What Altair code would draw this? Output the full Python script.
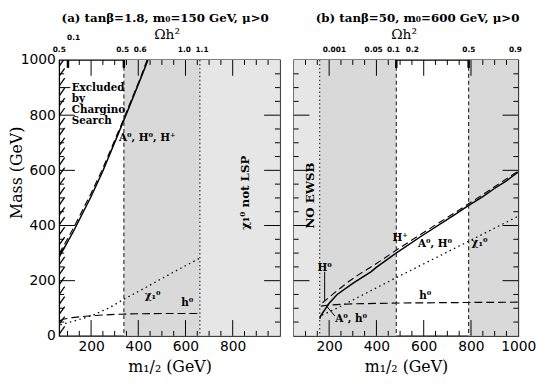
import altair as alt
import pandas as pd
import numpy as np

SERIF = "DejaVu Serif"
SANS = "DejaVu Sans"

# ---------------- panel (a): tanβ=1.8, m0=150 GeV ----------------
a_title = "(a) tanβ=1.8, m₀=150 GeV, μ>0"
a_xdomain = [65, 1000]
a_higgs_m = [65, 126, 200, 249, 330, 412, 441]
a_higgs_mass = [286, 380, 505, 596, 763, 937, 1000]
a_higgs2_m = [65, 126, 200, 249, 330, 412, 437]
a_higgs2_mass = [298, 392, 517, 606, 770, 942, 1000]
a_chi_m = [70, 120, 200, 280, 339, 420, 500, 580, 661]
a_chi_mass = [40, 52, 72, 103, 133, 170, 208, 245, 282]
a_h_m = [68, 80, 120, 200, 300, 400, 500, 655]
a_h_mass = [55, 60, 66, 73, 78, 80, 81, 81]
a_excluded = [65, 88]
a_stipple = [[339, 661]]
a_gray = [[661, 1000]]
a_dashed = [339]
a_dotted = [661]
a_om_low_pos = [65, 334, 408, 595, 670]
a_om_low_lab = ["0.5", "0.5", "0.6", "1.0", "1.1"]
a_om_up_pos = [126]
a_om_up_lab = ["0.1"]
a_om_marks = [102, 339]
a_xlabels = [200, 400, 600, 800]
a_text_m = [118, 118, 118, 118, 318, 461, 608]
a_text_mass = [898, 858, 818, 778, 717, 146, 118]
a_text = ["Excluded", "by", "Chargino", "Search", "A⁰, H⁰, H⁺", "χ₁⁰", "h⁰"]
a_text_align = ["left", "left", "left", "left", "left", "center", "center"]
a_rot_m = [853]
a_rot_mass = [519]
a_rot_text = ["χ₁⁰  not LSP"]
a_arrows = [[80, 900, 112, 900]]

# ---------------- panel (b): tanβ=50, m0=600 GeV ----------------
b_title = "(b) tanβ=50, m₀=600 GeV, μ>0"
b_xdomain = [50, 1000]
b_solid_m = [160, 165, 200, 234, 300, 378, 398, 488, 591, 738, 787, 850, 902, 950, 1000]
b_solid_mass = [62, 73, 118, 150, 190, 233, 247, 303, 362, 443, 471, 505, 536, 562, 594]
b_dash_m = [172, 234, 283, 325, 400, 488, 591, 738, 850, 1000]
b_dash_mass = [120, 164, 197, 222, 262, 313, 370, 450, 512, 598]
b_chi_m = [170, 237, 486, 533, 795, 1000]
b_chi_mass = [75, 102, 212, 232, 345, 434]
b_h_m = [165, 200, 300, 500, 800, 1000]
b_h_mass = [108, 112, 116, 119, 121, 122]
b_stipple = [[160, 484], [790, 1000]]
b_gray = [[50, 160]]
b_dashed = [484, 790]
b_dotted = [160]
b_om_low_pos = [222, 388, 472, 552, 791, 988]
b_om_low_lab = ["0.001", "0.05", "0.1", "0.2", "0.5", "0.9"]
b_om_marks = [484, 790]
b_xlabels = [200, 400, 600, 800, 1000]
b_text_m = [500, 648, 836, 607, 181, 226]
b_text_mass = [355, 334, 338, 146, 247, 60]
b_text = ["H⁺", "A⁰, H⁰", "χ₁⁰", "h⁰", "H⁰", "A⁰, h⁰"]
b_text_align = ["center", "center", "center", "center", "center", "left"]
b_rot_m = [120]
b_rot_mass = [509]
b_rot_text = ["NO EWSB"]
b_arrows = [[181, 232, 181, 128], [224, 72, 192, 105]]

Y_MAJOR = [0, 200, 400, 600, 800, 1000]

STIPPLE = "#d9d9d9"
GRAY = "#e6e6e6"


def build_panel(W, H, xdom, title, title_m, omega_m, lines, stipple, gray,
                dashed, dotted, om_low, om_up, om_marks, xlabels,
                texts, rots, arrows, show_y, hatch=None):
    xs = alt.Scale(domain=xdom, nice=False, zero=False)
    ys = alt.Scale(domain=[0, 1000], nice=False, zero=False)

    xaxis = alt.Axis(values=xlabels, ticks=False, domain=False, grid=False,
                     format="d",
                     labelFont=SANS, labelFontSize=14, labelColor="black",
                     labelPadding=4, labelFlush=False,
                     title="m₁/₂ (GeV)", titleFont=SERIF, titleFontSize=16,
                     titleFontWeight="normal", titleColor="black", titlePadding=5)
    if show_y:
        yaxis = alt.Axis(values=Y_MAJOR, ticks=False, domain=False, grid=False,
                         format="d",
                         labelFont=SANS, labelFontSize=14, labelColor="black",
                         labelPadding=4, title="Mass (GeV)", titleFont=SERIF,
                         titleFontSize=16, titleFontWeight="normal",
                         titleColor="black", titleAngle=270, titleX=-35,
                         titleY=114, titleAlign="center", titleBaseline="bottom")
    else:
        yaxis = None

    def X(f):
        return alt.X(f, type="quantitative", scale=xs, axis=xaxis)

    def Y(f):
        return alt.Y(f, type="quantitative", scale=ys, axis=yaxis)

    layers = []
    reg = pd.DataFrame(
        [{"x0": a, "x1": b, "fill": STIPPLE} for a, b in stipple]
        + [{"x0": a, "x1": b, "fill": GRAY} for a, b in gray])
    reg["y0"] = 0
    reg["y1"] = 1000
    layers.append(alt.Chart(reg).mark_rect(strokeWidth=0).encode(
        x=X("x0"), x2="x1", y=Y("y0"), y2="y1",
        color=alt.Color("fill:N", scale=None)))

    if hatch is not None:
        h0, h1 = hatch
        starts = np.arange(-30, 1000, 36)
        hd = pd.DataFrame({"x0": h0, "x1": h1, "y0": starts, "y1": starts + 28})
        layers.append(alt.Chart(hd).mark_rule(color="black", strokeWidth=1.3, clip=True).encode(
            x=X("x0"), x2="x1", y=Y("y0"), y2="y1"))

    for m, mass, dash, sw in lines:
        ld = pd.DataFrame({"m": m, "mass": mass})
        kw = dict(color="black", strokeWidth=sw, clip=True)
        if dash:
            kw["strokeDash"] = dash
        layers.append(alt.Chart(ld).mark_line(**kw).encode(x=X("m"), y=Y("mass")))

    if dashed:
        layers.append(alt.Chart(pd.DataFrame({"v": dashed})).mark_rule(
            color="#222", strokeWidth=1.1, strokeDash=[4, 3]).encode(
            x=X("v"), y=alt.value(0), y2=alt.value(H)))
    if dotted:
        layers.append(alt.Chart(pd.DataFrame({"v": dotted})).mark_rule(
            color="#222", strokeWidth=1.1, strokeDash=[1.5, 2.5]).encode(
            x=X("v"), y=alt.value(0), y2=alt.value(H)))

    # inward ticks
    xmaj = [v for v in range(200, 1001, 200) if xdom[0] < v < xdom[1]]
    xmin = [v for v in range(50, 1001, 50) if xdom[0] < v < xdom[1] and v not in xmaj]
    ymaj = [200, 400, 600, 800]
    ymin = [v for v in range(50, 1000, 50) if v not in ymaj]
    for vals, ln in ((xmaj, 16), (xmin, 5)):
        td = pd.DataFrame({"v": vals})
        layers.append(alt.Chart(td).mark_rule(color="black", strokeWidth=1).encode(
            x=X("v"), y=alt.value(H), y2=alt.value(H - ln)))
        layers.append(alt.Chart(td).mark_rule(color="black", strokeWidth=1).encode(
            x=X("v"), y=alt.value(0), y2=alt.value(ln)))
    for vals, ln in ((ymaj, 16), (ymin, 5)):
        td = pd.DataFrame({"v": vals})
        layers.append(alt.Chart(td).mark_rule(color="black", strokeWidth=1).encode(
            y=Y("v"), x=alt.value(0), x2=alt.value(ln)))
        layers.append(alt.Chart(td).mark_rule(color="black", strokeWidth=1).encode(
            y=Y("v"), x=alt.value(W), x2=alt.value(W - ln)))

    # Omega h^2 markers on the top edge
    layers.append(alt.Chart(pd.DataFrame({"v": om_marks})).mark_rule(
        color="black", strokeWidth=2.5).encode(x=X("v"), y=alt.value(0), y2=alt.value(8)))

    # arrows / pointer lines
    if arrows:
        ad = pd.DataFrame(arrows, columns=["x0", "y0", "x1", "y1"])
        layers.append(alt.Chart(ad).mark_rule(color="black", strokeWidth=1).encode(
            x=X("x0"), y=Y("y0"), x2="x1", y2="y1"))

    # texts inside plot
    td = pd.DataFrame(texts, columns=["m", "mass", "t", "align"])
    for al in ("left", "center"):
        sub = td[td["align"] == al]
        if len(sub):
            layers.append(alt.Chart(sub).mark_text(
                font=SERIF, fontSize=10.5, fontWeight="bold", color="black",
                align=al, baseline="middle").encode(x=X("m"), y=Y("mass"), text="t:N"))
    rd = pd.DataFrame(rots, columns=["m", "mass", "t"])
    layers.append(alt.Chart(rd).mark_text(
        font=SERIF, fontSize=12, fontWeight="bold", color="black", angle=270,
        align="center", baseline="middle").encode(x=X("m"), y=Y("mass"), text="t:N"))

    # top Omega h^2 scale labels
    ol = pd.DataFrame(om_low, columns=["m", "t"])
    layers.append(alt.Chart(ol).mark_text(
        font=SANS, fontSize=7.5, fontWeight="bold", color="black",
        align="center", baseline="middle").encode(x=X("m"), y=alt.value(-10), text="t:N"))
    if om_up:
        ou = pd.DataFrame(om_up, columns=["m", "t"])
        layers.append(alt.Chart(ou).mark_text(
            font=SANS, fontSize=7.5, fontWeight="bold", color="black",
            align="center", baseline="middle").encode(x=X("m"), y=alt.value(-22), text="t:N"))
    layers.append(alt.Chart(pd.DataFrame({"m": [omega_m], "t": ["Ωh²"]})).mark_text(
        font=SERIF, fontSize=14, color="black", align="center",
        baseline="middle").encode(x=X("m"), y=alt.value(-25), text="t:N"))
    layers.append(alt.Chart(pd.DataFrame({"m": [title_m], "t": [title]})).mark_text(
        font=SERIF, fontSize=12, fontWeight="bold", color="black", align="center",
        baseline="middle").encode(x=X("m"), y=alt.value(-43), text="t:N"))

    return alt.layer(*layers).properties(width=W, height=H)


H = 280
pa = build_panel(
    224, H, a_xdomain, a_title, 514, 522,
    [(a_higgs_m, a_higgs_mass, None, 1.5),
     (a_higgs2_m, a_higgs2_mass, [7, 4], 1.1),
     (a_chi_m, a_chi_mass, [1.5, 3.5], 1.3),
     (a_h_m, a_h_mass, [8, 4], 1.2)],
    a_stipple, a_gray, a_dashed, a_dotted,
    list(zip(a_om_low_pos, a_om_low_lab)), list(zip(a_om_up_pos, a_om_up_lab)),
    a_om_marks, a_xlabels,
    list(zip(a_text_m, a_text_mass, a_text, a_text_align)),
    list(zip(a_rot_m, a_rot_mass, a_rot_text)),
    a_arrows, True, hatch=a_excluded)

pb = build_panel(
    228, H, b_xdomain, b_title, 574, 517,
    [(b_solid_m, b_solid_mass, None, 1.5),
     (b_dash_m, b_dash_mass, [7, 4], 1.1),
     (b_chi_m, b_chi_mass, [1.5, 3.5], 1.3),
     (b_h_m, b_h_mass, [8, 4], 1.2)],
    b_stipple, b_gray, b_dashed, b_dotted,
    list(zip(b_om_low_pos, b_om_low_lab)), [],
    b_om_marks, b_xlabels,
    list(zip(b_text_m, b_text_mass, b_text, b_text_align)),
    list(zip(b_rot_m, b_rot_mass, b_rot_text)),
    b_arrows, False)

chart = alt.hconcat(pa, pb, spacing=10).properties(padding=0).configure_view(
    stroke="black", strokeWidth=1.3)

chart.save("out.html", embed_options={"renderer": "svg", "actions": False})
